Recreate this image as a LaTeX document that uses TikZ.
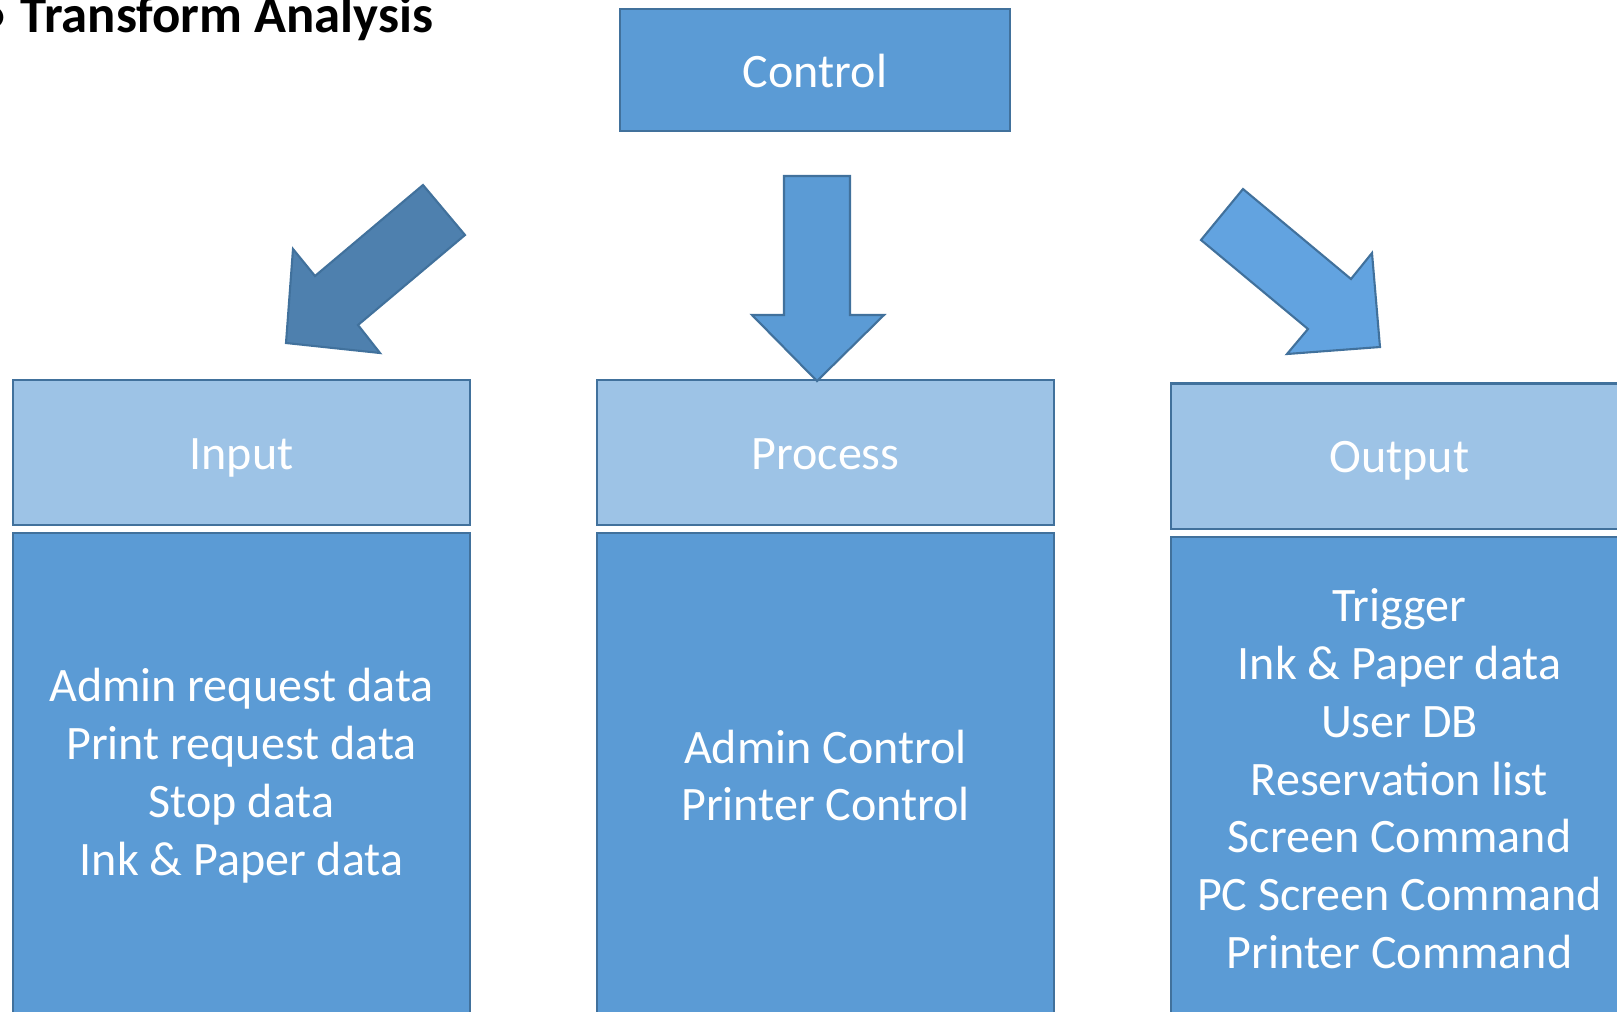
\documentclass[tikz,border=0pt]{standalone}
\usepackage{fontspec}
\setmainfont{Carlito}
\usetikzlibrary{positioning}
\definecolor{boxblue}{HTML}{5B9BD5}
\definecolor{headblue}{HTML}{9DC3E6}
\definecolor{edgeblue}{HTML}{41719C}
\definecolor{darkarrow}{HTML}{4E80AE}
\definecolor{lightarrow}{HTML}{62A3E0}

\begin{document}
\begin{tikzpicture}[x=0.01cm, y=-0.01cm]
	\tikzstyle{comp} = [
		rectangle, draw=edgeblue, line width=0.6pt, text=white, inner sep=0pt,
		font=\fontsize{13.66}{16.43}\selectfont, align=center
	]
	\tikzstyle{headbox} = [
		comp, fill=headblue, minimum width=4.56cm, minimum height=1.45cm,
		text height=0.36cm, text depth=0.03cm
	]
	\tikzstyle{bodybox} = [
		comp, fill=boxblue, minimum width=4.56cm, minimum height=4.84cm
	]
	\tikzstyle{blockarrow} = [
		draw=edgeblue, line width=0.6pt, line join=miter
	]

	\useasboundingbox (0,0) rectangle (1617,1011);
	\clip (0,0) rectangle (1617,1011);

	% Title
	\node (Title) [anchor=base west, inner sep=0pt, font=\fontsize{15}{18}\selectfont\bfseries] at (20,32) {\llap{•\hspace{0.29em}}Transform Analysis};

	% Control
	\node (Control) [comp, fill=boxblue, minimum width=3.9cm, minimum height=1.22cm, text height=0.37cm, text depth=0.02cm] at (815,70) {Control};

	% Input
	\node (InputHead) [headbox] at (241.5,452.75) {Input};
	\node (InputBody) [bodybox, below=0.06cm of InputHead] {Admin request data\\Print request data\\Stop data\\Ink \& Paper data};

	% Process
	\node (ProcessHead) [headbox] at (825.5,452.75) {Process};
	\node (ProcessBody) [bodybox, below=0.06cm of ProcessHead] {Admin Control\\Printer Control};

	% Output
	\node (OutputHead) [headbox] at (1399.5,456) {Output};
	\node (OutputBody) [bodybox, below=0.06cm of OutputHead] {Trigger\\Ink \& Paper data\\User DB\\Reservation list\\Screen Command\\PC Screen Command\\Printer Command};

	% Control -> Input
	\draw[blockarrow, fill=darkarrow] (423,185) -- (465,235) -- (358,325) -- (380,353) -- (286,343) -- (293,249) -- (315,276) -- cycle;
	% Control -> Process
	\draw[blockarrow, fill=boxblue] (784,176) -- (850,176) -- (850,315) -- (884,315) -- (817,381) -- (752,315) -- (784,315) -- cycle;
	% Control -> Output
	\draw[blockarrow, fill=lightarrow] (1243,189) -- (1351,279) -- (1372,253) -- (1380,347) -- (1287,354) -- (1308,329) -- (1201,240) -- cycle;

\end{tikzpicture}
\end{document}
